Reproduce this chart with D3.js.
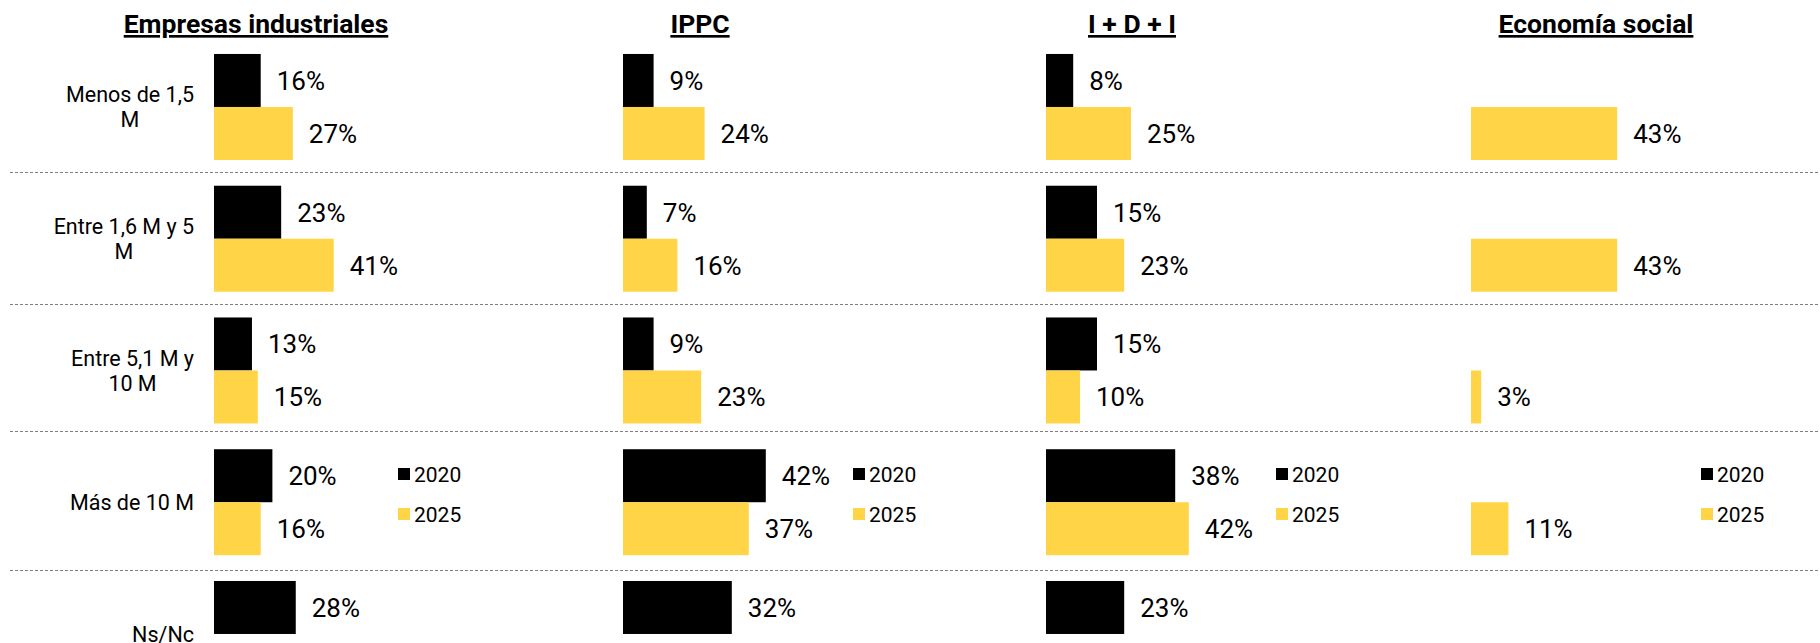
<!DOCTYPE html>
<html lang="es">
<head>
<meta charset="utf-8">
<script src="https://cdn.jsdelivr.net/npm/d3@7"></script>
<style>
  body { margin: 0; background: #fff; }
  svg { display: block; font-family: Roboto, "Noto Sans", sans-serif; }
</style>
</head>
<body>
<script>
// datos
const categories = ['Menos de 1,5 M', 'Entre 1,6 M y 5 M', 'Entre 5,1 M y 10 M', 'Más de 10 M', 'Ns/Nc']
const years = ['2020', '2025']
const panels = ['Empresas industriales', 'IPPC', 'I + D + I', 'Economía social']

// un array por panel, en el orden de categories
const values2020 = [
  [16, 23, 13, 20, 28],
  [9, 7, 9, 42, 32],
  [8, 15, 15, 38, 23],
  [null, null, null, null, null]
]
const values2025 = [
  [27, 41, 15, 16, null],
  [24, 16, 23, 37, null],
  [25, 23, 10, 42, null],
  [43, 43, 3, 11, null]
]

const width = 1820
const height = 643
const colors = {'2020': '#000000', '2025': '#FFD547'}

// posición de cada panel (inicio de barras, ancho del área, leyenda, título)
const layout = [
  {x0: 214, w: 146, legendDx: 184, titleX: 256},
  {x0: 623, w: 170, legendDx: 230, titleX: 700},
  {x0: 1046, w: 170, legendDx: 230, titleX: 1132},
  {x0: 1471, w: 170, legendDx: 230, titleX: 1596}
]

const svg = d3.select('body').append('svg').attr('width', width).attr('height', height)

// escalas
const step = 131.75
const y = d3.scaleBand(categories, [41.1, 41.1 + step * categories.length])
const ySub = d3.scaleBand(years, [0, y.bandwidth()]).paddingOuter(0.243)

// separadores punteados (un poco corridos hacia el grupo de abajo, como en el original)
const sepShift = [-1, -0.5, -5, 2]
svg.append('g').selectAll('line')
  .data(categories.slice(1))
  .join('line')
  .attr('x1', 10).attr('x2', width)
  .attr('y1', (d, i) => Math.round(y(d) + sepShift[i]) + 0.5)
  .attr('y2', (d, i) => Math.round(y(d) + sepShift[i]) + 0.5)
  .attr('stroke', '#7f7f7f')
  .attr('stroke-width', 1)
  .attr('stroke-dasharray', '3,2')

// etiquetas de categorías (multilínea, centradas, bloque alineado a la derecha)
const labelRight = 194
const lineH = 25
const labels = svg.append('g').attr('font-size', 21.5).attr('fill', '#000')
categories.forEach(cat => {
  const t = labels.append('text').attr('text-anchor', 'middle')
  // wrap por palabras
  const words = cat.split(' ')
  const lines = []
  let cur = []
  const probe = labels.append('text')
  words.forEach(w => {
    const test = cur.concat(w).join(' ')
    probe.text(test)
    if (cur.length && probe.node().getComputedTextLength() > 147) {
      lines.push(cur.join(' '))
      cur = [w]
    } else cur.push(w)
  })
  lines.push(cur.join(' '))
  const maxW = d3.max(lines, l => { probe.text(l); return probe.node().getComputedTextLength() })
  probe.remove()
  const cy = y(cat) + y.bandwidth() / 2
  const cx = labelRight - maxW / 2
  lines.forEach((l, i) => {
    t.append('tspan')
      .attr('x', cx)
      .attr('y', cy - (lines.length - 1) * lineH / 2 + i * lineH)
      .attr('dy', '0.36em')
      .text(l)
  })
})

panels.forEach((name, p) => {
  const L = layout[p]
  const x = d3.scaleLinear([0, 50], [0, L.w])
  const g = svg.append('g').attr('transform', `translate(${L.x0},0)`)

  // título
  svg.append('text')
    .attr('x', L.titleX).attr('y', 33)
    .attr('text-anchor', 'middle')
    .attr('font-size', 26.5).attr('font-weight', 700)
    .attr('text-decoration', 'underline')
    .text(name)

  const rows = []
  categories.forEach((c, i) => {
    rows.push({cat: c, year: '2020', v: values2020[p][i]})
    rows.push({cat: c, year: '2025', v: values2025[p][i]})
  })
  const data = rows.filter(d => d.v != null)

  g.selectAll('rect.bar')
    .data(data)
    .join('rect')
    .attr('class', 'bar')
    .attr('x', 0)
    .attr('y', d => y(d.cat) + ySub(d.year))
    .attr('width', d => x(d.v))
    .attr('height', ySub.bandwidth())
    .attr('fill', d => colors[d.year])

  g.selectAll('text.val')
    .data(data)
    .join('text')
    .attr('class', 'val')
    .attr('x', d => x(d.v) + 16)
    .attr('y', d => y(d.cat) + ySub(d.year) + ySub.bandwidth() / 2)
    .attr('dy', '0.36em')
    .attr('font-size', 26)
    .text(d => d.v + '%')

  // leyenda
  const lg = g.append('g').attr('transform', `translate(${L.legendDx},0)`)
  years.forEach((yr, i) => {
    const cy = 474 + i * 40
    lg.append('rect').attr('x', 0).attr('y', cy - 6).attr('width', 12).attr('height', 12).attr('fill', colors[yr])
    lg.append('text').attr('x', 16).attr('y', cy).attr('dy', '0.36em').attr('font-size', 21).text(yr)
  })
})
</script>
</body>
</html>
